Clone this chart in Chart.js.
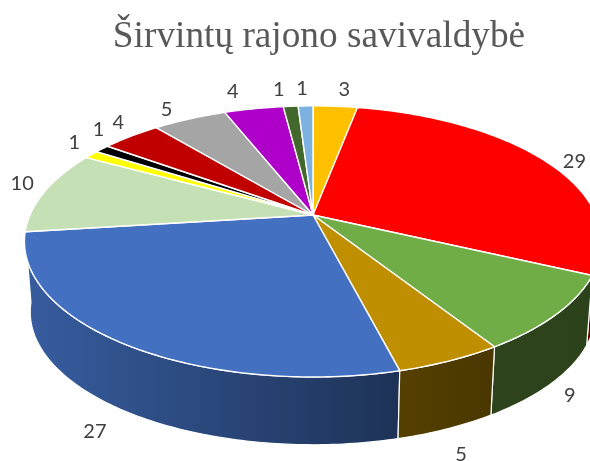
<!DOCTYPE html>
<html>
<head>
<meta charset="utf-8">
<title>Širvintų rajono savivaldybė</title>
<script src="https://cdn.jsdelivr.net/npm/chart.js@4"></script>
<style>
  html, body { margin: 0; padding: 0; background: #fff; }
  #chart-container { width: 590px; height: 461px; }
</style>
</head>
<body>
<div id="chart-container"><canvas id="pieChart" width="590" height="461"></canvas></div>
<script>
const chartTitle = 'Širvintų rajono savivaldybė';
const sliceValues = [3, 29, 9, 5, 27, 10, 1, 1, 4, 5, 4, 1, 1];
const sliceColors = ['#FFC000', '#FF0000', '#70AD47', '#BF8F00', '#4370C1', '#C5E0B4', '#FFFF00',
  '#000000', '#C00000', '#A5A5A5', '#AE00C8', '#43682B', '#7DB1E0'];

// perspective of the tilted disc
const view = { cx: 313, cy: 215, k: 283, a: 130.4, p: 0.195, depth: 71, shrink: 0.98 };
// how far each value label sits from the rim, then a small correction
const labelNudge = [[7, 3], [12, 10], [3, -1], [6, 7], [-21, 3], [-3, -4], [0, -2], [13, -8], [2, 0], [-13, 8], [-16, 2], [-10, 3], [-3, 3]];
// wall shading from left to right
const wallShade = [[0, 0.85], [0.64, 0.47], [0.67, 0.45], [0.82, 0.39], [1, 0.38]];

function project(angle, lower) {
  const u = Math.cos(angle), v = Math.sin(angle);
  const w = 1 / (1 - view.p * v);
  const s = lower ? view.shrink : 1;
  return {
    x: view.cx + view.k * s * u * w,
    y: view.cy + (lower ? view.depth : 0) + view.a * s * v * w,
  };
}

function arcPoints(start, end, lower) {
  const steps = Math.max(2, Math.ceil((end - start) / 0.015));
  const pts = [];
  for (let i = 0; i <= steps; i++) pts.push(project(start + (end - start) * i / steps, lower));
  return pts;
}

function shade(hex, f) {
  const n = parseInt(hex.slice(1), 16);
  return `rgb(${Math.round((n >> 16) * f)},${Math.round(((n >> 8) & 255) * f)},${Math.round((n & 255) * f)})`;
}

const tiltedPie = {
  id: 'tiltedPie',
  beforeDatasetsDraw(chart) {
    const ctx = chart.ctx;
    const arcs = chart.getDatasetMeta(0).data;
    const order = arcs.map((_, i) => i).sort((a, b) =>
      Math.sin((arcs[a].startAngle + arcs[a].endAngle) / 2) - Math.sin((arcs[b].startAngle + arcs[b].endAngle) / 2));

    ctx.save();
    ctx.lineJoin = 'round';
    ctx.strokeStyle = '#fff';

    // side walls first, the top faces cover whatever is behind
    order.forEach(i => {
      const el = arcs[i];
      const top = arcPoints(el.startAngle, el.endAngle, false);
      const bottom = arcPoints(el.startAngle, el.endAngle, true).reverse();
      const grad = ctx.createLinearGradient(0, 0, chart.width, 0);
      wallShade.forEach(([pos, f]) => grad.addColorStop(pos, shade(sliceColors[i], f)));
      ctx.beginPath();
      top.concat(bottom).forEach((p, n) => n ? ctx.lineTo(p.x, p.y) : ctx.moveTo(p.x, p.y));
      ctx.closePath();
      ctx.fillStyle = grad;
      ctx.fill();
      ctx.lineWidth = 1.2;
      ctx.stroke();
    });

    arcs.forEach((el, i) => {
      ctx.beginPath();
      ctx.moveTo(view.cx, view.cy);
      arcPoints(el.startAngle, el.endAngle, false).forEach(p => ctx.lineTo(p.x, p.y));
      ctx.closePath();
      ctx.fillStyle = sliceColors[i];
      ctx.fill();
      ctx.lineWidth = 1.4;
      ctx.stroke();
    });

    ctx.font = '20px Lato';
    ctx.fillStyle = '#404040';
    ctx.textAlign = 'center';
    ctx.textBaseline = 'middle';
    arcs.forEach((el, i) => {
      const mid = (el.startAngle + el.endAngle) / 2;
      const p = project(mid, Math.sin(mid) > 0.1);
      const gap = 20;
      const x = p.x + Math.cos(mid) * gap + labelNudge[i][0];
      const y = p.y + Math.sin(mid) * gap + labelNudge[i][1];
      ctx.fillText(String(sliceValues[i]), x, y);
    });
    ctx.restore();
    return false;
  },
};

new Chart(document.getElementById('pieChart').getContext('2d'), {
  type: 'pie',
  data: {
    labels: sliceValues.map(String),
    datasets: [{ data: sliceValues, backgroundColor: sliceColors }],
  },
  options: {
    responsive: false,
    animation: false,
    layout: { padding: { left: 48 } },
    plugins: {
      legend: { display: false },
      tooltip: { enabled: false },
      title: {
        display: true,
        text: chartTitle,
        fullSize: false,
        color: '#595959',
        font: { family: '"Liberation Serif"', size: 37.3, weight: 'normal' },
        padding: { top: 15, bottom: 10 },
      },
    },
  },
  plugins: [tiltedPie],
});
</script>
</body>
</html>
